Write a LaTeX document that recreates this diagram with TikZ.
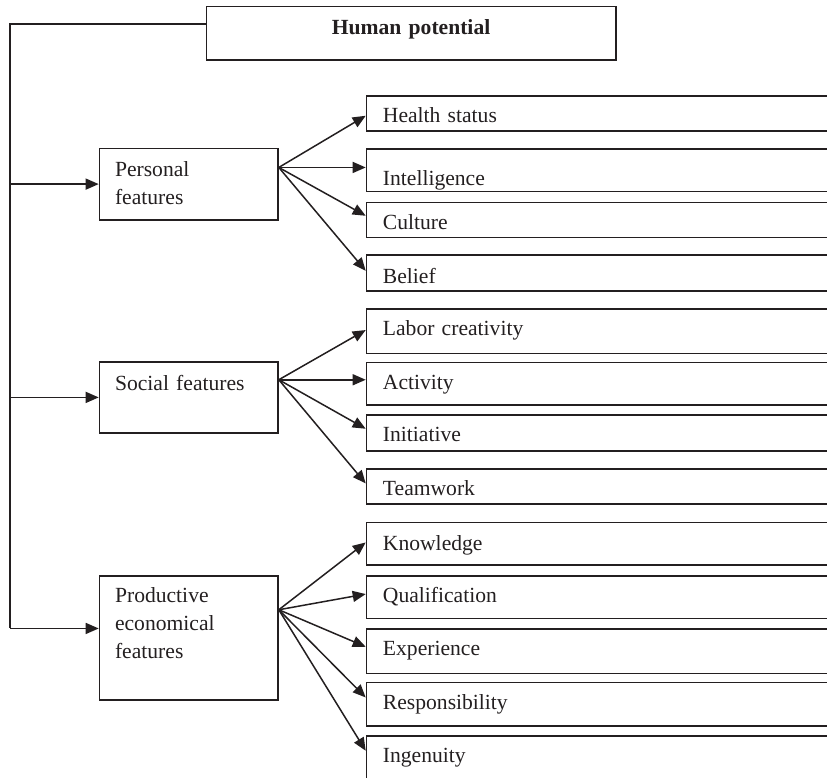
\documentclass[tikz,border=0pt]{standalone}
\usepackage{fontspec}
\setmainfont{Liberation Serif}
\usetikzlibrary{arrows.meta}
\definecolor{ink}{HTML}{231F20}

\begin{document}
\begin{tikzpicture}[x=1pt,y=-1pt,
  every node/.style={font=\fontsize{21.6}{28}\selectfont, text=ink},
  boxbase/.style={draw=ink, line width=1.5pt, inner ysep=0pt, anchor=north west, align=left},
  topbox/.style={boxbase, text width=409.3pt, inner xsep=0pt, align=center,
    text height=27.6pt, text depth=26pt, font=\fontsize{21.6}{28}\selectfont\bfseries},
  groupbox/.style 2 args={boxbase, text width=147.4pt, inner xsep=15.6pt,
    text height=#1pt, text depth=#2pt},
  itembox/.style 2 args={boxbase, text width=500pt, inner xsep=16.5pt,
    text height=#1pt, text depth=#2pt},
  link/.style={draw=ink, line width=1.5pt},
  arr/.style={link, -{Triangle[length=13pt,width=11pt]}}
]
\useasboundingbox (0,0) rectangle (827,777);
\clip (0,0) rectangle (827,777);

% root
\node[topbox] (top) at (205.7,5.7) {Human potential};

% groups
\node[groupbox={28}{43.3}] (pers) at (98.7,147.7) {Personal\\features};
\node[groupbox={29}{42.3}] (soc)  at (98.7,361)   {Social features};
\node[groupbox={27}{97.3}] (prod) at (98.7,575)   {Productive\\economical\\features};

% items, open to the right
\node[itembox={26.7}{8.3}]  (hs)   at (365.7,95)    {Health status};
\node[itembox={36}{6.4}]    (int)  at (365.7,148.3) {Intelligence};
\node[itembox={26.6}{8.4}]  (cul)  at (365.7,201.7) {Culture};
\node[itembox={28.4}{7.3}]  (bel)  at (365.7,254.3) {Belief};

\node[itembox={26.7}{17.7}] (lab)  at (365.7,308.3) {Labor creativity};
\node[itembox={26.6}{16}]   (act)  at (365.7,361.7) {Activity};
\node[itembox={26.4}{9.3}]  (ini)  at (365.7,414.3) {Initiative};
\node[itembox={26.7}{8.3}]  (team) at (365.7,468.3) {Teamwork};

\node[itembox={28.3}{14.3}] (know) at (365.7,521.7) {Knowledge};
\node[itembox={26.7}{15.8}] (qual) at (365.7,575)   {Qualification};
\node[itembox={26.7}{17.7}] (exp)  at (365.7,628.3) {Experience};
\node[itembox={26.8}{16.7}] (resp) at (365.7,681.5) {Responsibility};
\node[itembox={26.7}{17.3}] (ing)  at (365.7,735)   {Ingenuity};

% spine from the root down the left side
\coordinate (corner) at (10,24);
\coordinate (pin) at ([yshift=9.45pt]prod.west);
\draw[link] (top.west |- corner) -- (corner) -- (corner |- pin);
\draw[arr] (corner |- pers.west) -- (pers.west);
\draw[arr] (corner |- soc.west) -- (soc.west);
\draw[arr] (corner |- pin) -- (pin);

% fans
\coordinate (po) at ([yshift=16.65pt]pers.east);
\draw[arr] (po) -- ([yshift=-2.5pt]hs.west);
\draw[arr] (po) -- (int.west |- po);
\draw[arr] (po) -- ([yshift=4.2pt]cul.west);
\draw[arr] (po) -- ([yshift=2.15pt]bel.west);

\coordinate (so) at ([yshift=17.65pt]soc.east);
\draw[arr] (so) -- ([yshift=1.2pt]lab.west);
\draw[arr] (so) -- (act.west |- so);
\draw[arr] (so) -- ([yshift=4.15pt]ini.west);
\draw[arr] (so) -- ([yshift=3.1pt]team.west);

\coordinate (pro) at ([yshift=28.15pt]prod.east);
\draw[arr] (pro) -- ([yshift=1.3pt]know.west);
\draw[arr] (pro) -- ([yshift=2.95pt]qual.west);
\draw[arr] (pro) -- ([yshift=4.5pt]exp.west);
\draw[arr] (pro) -- ([yshift=6.55pt]resp.west);
\draw[arr] (pro) -- ([yshift=7pt]ing.west);
\end{tikzpicture}
\end{document}
